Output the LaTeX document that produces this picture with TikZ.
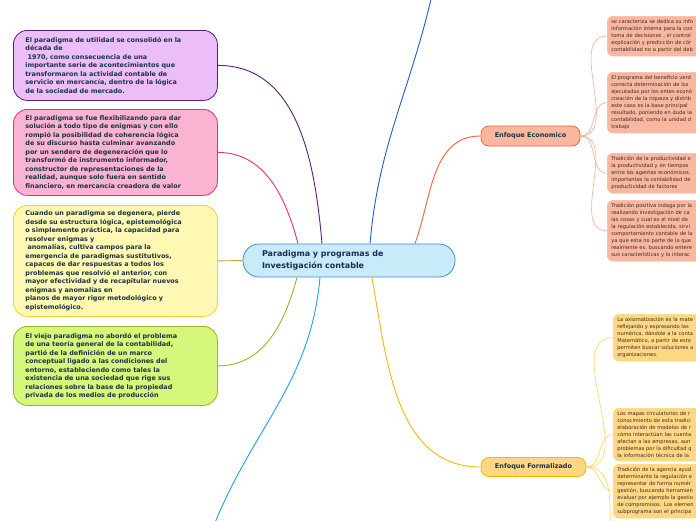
\documentclass[tikz,border=0pt]{standalone}
\usepackage{fontspec}
\setmainfont{DejaVu Sans}
\usepackage{xcolor}
\usepackage{tikz}

\definecolor{violetfill}{HTML}{EBBDF9}
\definecolor{violetline}{HTML}{5A1C76}
\definecolor{pinkfill}{HTML}{FBB3D2}
\definecolor{pinkline}{HTML}{EC2C7A}
\definecolor{yellowfill}{HTML}{FFF8B3}
\definecolor{yellowline}{HTML}{EFD52E}
\definecolor{greenfill}{HTML}{D6F67C}
\definecolor{greenline}{HTML}{8DBD22}
\definecolor{centralfill}{HTML}{C8EBFA}
\definecolor{centralline}{HTML}{3A8FD5}
\definecolor{ecofill}{HTML}{FAB7A0}
\definecolor{ecoline}{HTML}{F0643A}
\definecolor{formfill}{HTML}{FDD784}
\definecolor{formline}{HTML}{F6B800}
\definecolor{topblue}{HTML}{1C5EC9}
\definecolor{botcyan}{HTML}{1BA3E6}
\definecolor{lefttext}{HTML}{1B3445}
\definecolor{righttext}{HTML}{3A2A22}
\definecolor{centraltext}{HTML}{1E2A58}

\begin{document}
\begin{tikzpicture}[x=1pt,y=-1pt,
        leftbox/.style={draw, line width=0.8pt, rounded corners=14pt, anchor=north west,
            align=left, inner xsep=12pt, text width=180pt, text=lefttext,
            font=\bfseries\fontsize{6.45}{8.5}\selectfont},
        rightbox/.style={draw, line width=0.6pt, rounded corners=6pt, anchor=north west,
            align=left, inner xsep=4pt, text width=140pt, text=righttext,
            font=\fontsize{5.15}{7}\selectfont},
        enfoque/.style={draw, line width=0.8pt, rounded corners=8pt, minimum height=20pt,
            text=lefttext, font=\bfseries\fontsize{6.5}{8}\selectfont},
        link/.style={line width=0.9pt},
        sublink/.style={line width=0.6pt}]
    \useasboundingbox (0,0) rectangle (696,520);

    % central idea
    \node[draw=centralline, fill=centralfill, line width=0.8pt, rounded corners=16pt,
        minimum width=212pt, minimum height=33pt, inner xsep=19pt, text width=174pt,
        align=left, text=centraltext, font=\bfseries\fontsize{8}{12}\selectfont]
        (cen) at (349,260.5) {Paradigma y programas de\\Investigación contable};

    % left boxes
    \node[leftbox, draw=violetline, fill=violetfill, minimum height=70pt] (util) at (13,30)
        {El paradigma de utilidad se consolidó en la\\década de\\\ 1970, como consecuencia de una\\importante serie de acontecimientos que\\transformaron la actividad contable de\\servicio en mercancía, dentro de la lógica\\de la sociedad de mercado.};
    \node[leftbox, draw=pinkline, fill=pinkfill, minimum height=86pt] (flex) at (13,109)
        {El paradigma se fue flexibilizando para dar\\solución a todo tipo de enigmas y con ello\\rompió la posibilidad de coherencia lógica\\de su discurso hasta culminar avanzando\\por un sendero de degeneración que lo\\transformó de instrumento informador,\\constructor de representaciones de la\\realidad, aunque solo fuera en sentido\\financiero, en mercancía creadora de valor};
    \node[leftbox, draw=yellowline, fill=yellowfill, minimum height=111pt] (dege) at (13,205)
        {Cuando un paradigma se degenera, pierde\\desde su estructura lógica, epistemológica\\o simplemente práctica, la capacidad para\\resolver enigmas y\\\ anomalías, cultiva campos para la\\emergencia de paradigmas sustitutivos,\\capaces de dar respuestas a todos los\\problemas que resolvió el anterior, con\\mayor efectividad y de recapitular nuevos\\enigmas y anomalías en\\planos de mayor rigor metodológico y\\epistemológico.};
    \node[leftbox, draw=greenline, fill=greenfill, minimum height=79pt] (viejo) at (13,326)
        {El viejo paradigma no abordó el problema\\de una teoría general de la contabilidad,\\partió de la definición de un marco\\conceptual ligado a las condiciones del\\entorno, estableciendo como tales la\\existencia de una sociedad que rige sus\\relaciones sobre la base de la propiedad\\privada de los medios de producción};

    % the two approaches
    \node[enfoque, draw=ecoline, fill=ecofill, minimum width=99pt] (eco) at (530.5,136) {Enfoque Economico};
    \node[enfoque, draw=formline, fill=formfill, minimum width=105pt, minimum height=19pt] (form) at (533.5,467) {Enfoque Formalizado};

    % economic boxes
    \node[rightbox, draw=ecoline!45, fill=ecofill, minimum height=38pt] (ecoa) at (607,16)
        {se caracteriza se dedica su info\\información interna para la con\\toma de decisiones , el control\\explicación y predicción de cór\\contabilidad no a partir del deb};
    \node[rightbox, draw=ecoline!45, fill=ecofill, minimum height=58pt] (ecob) at (607,72)
        {El programa del beneficio verd\\correcta determinación de los\\ejecutadas por los entes econó\\creación de la riqueza y distrib\\este caso es la base principal\\resultado, poniendo en duda la\\contabilidad, como la unidad d\\trabajo};
    \node[rightbox, draw=ecoline!45, fill=ecofill, minimum height=37pt] (ecoc) at (607,153)
        {Tradición de la productividad e\\la productividad y en tiempos\\entre los agentes económicos.\\importantes la contabilidad de\\productividad de factores};
    \node[rightbox, draw=ecoline!45, fill=ecofill, minimum height=57pt] (ecod) at (607,200)
        {Tradición positiva indaga por la\\realizando investigación de ca\\las cosas y cual es el nivel de\\la regulación establecida, sirvi\\comportamiento contable de la\\ya que esta no parte de lo que\\realmente es, buscando entere\\sus características y la interac};

    % formal boxes
    \node[rightbox, draw=formline!55, fill=formfill, minimum height=44pt] (forma) at (613,314)
        {La axiomatización es la mate\\reflejando y expresando las\\numérica, dándole a la conta\\Matemático, a partir de esto\\permiten buscar soluciones a\\organizaciones.};
    \node[rightbox, draw=formline!55, fill=formfill, minimum height=50pt] (formb) at (613,408)
        {Los mapas circulatorios de r\\conocimiento de esta tradici\\elaboración de modelos de r\\cómo interactúan las cuenta\\afectan a las empresas, aun\\problemas por la dificultad q\\la información técnica de la};
    \node[rightbox, draw=formline!55, fill=formfill, minimum height=53pt] (formc) at (613,464)
        {Tradición de la agencia ayud\\determinante la regulación e\\representar de forma numér\\gestión, buscando herramien\\evaluar por ejemplo la gestio\\de compromisos. Los elemen\\subprograma son el principa};

    \coordinate (topout) at (432,-5);
    \coordinate (botout) at (214,525);
    \coordinate (formout) at (611,540);

    % main branches
    \draw[link, violetline] (util.east) to[out=0,in=95] ([xshift=-27pt]cen.north);
    \draw[link, pinkline] (flex.east) to[out=0,in=105] ([xshift=-51pt]cen.north);
    \draw[link, yellowline!80!black] (dege.east) -- (cen.west);
    \draw[link, greenline] (viejo.east) to[out=0,in=-105] ([xshift=-52pt]cen.south);
    \draw[link, botcyan] ([xshift=-29pt]cen.south) to[out=-95,in=68] (botout);
    \draw[link, topblue] ([xshift=21pt]cen.north) to[out=85,in=-103] (topout);
    \draw[link, ecoline] ([xshift=66pt]cen.north) to[out=70,in=180] (eco.west);
    \draw[link, formline] ([xshift=23pt]cen.south) to[out=-80,in=180] (form.west);

    % sub branches
    \draw[sublink, ecoline!55] (eco.east) to[out=0,in=180] (ecoa.west);
    \draw[sublink, ecoline!55] (eco.east) to[out=0,in=180] (ecob.west);
    \draw[sublink, ecoline!55] (eco.east) to[out=0,in=180] (ecoc.west);
    \draw[sublink, ecoline!55] (eco.east) to[out=0,in=180] (ecod.west);
    \draw[sublink, formline!60] (form.east) to[out=0,in=180] (forma.west);
    \draw[sublink, formline!60] (form.east) to[out=0,in=180] (formb.west);
    \draw[sublink, formline!60] (form.east) to[out=0,in=180] (formc.west);
    \draw[sublink, formline!60] (form.east) to[out=0,in=95] (formout);
\end{tikzpicture}
\end{document}
